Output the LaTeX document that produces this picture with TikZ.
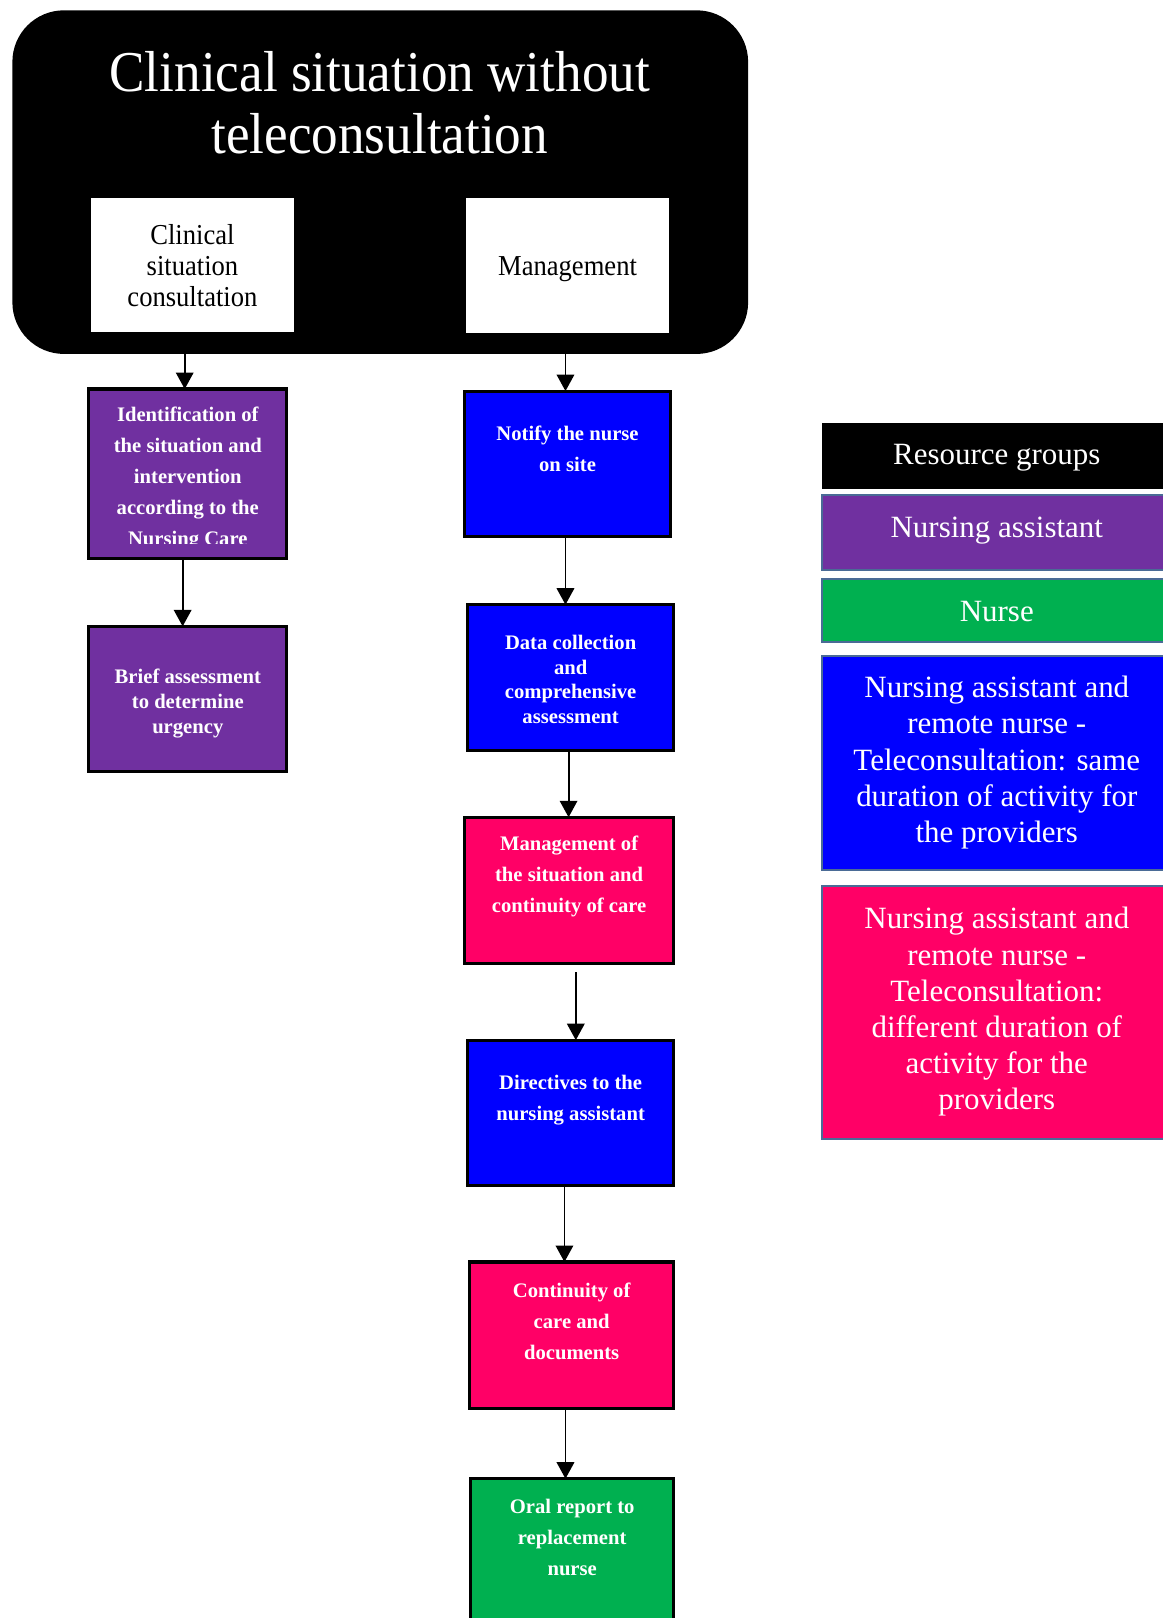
\documentclass[tikz,border=0pt]{standalone}
\usepackage{fontspec}
\setmainfont{Liberation Serif}
\newfontfamily\condensed[FakeStretch=0.92]{Liberation Serif}
\usetikzlibrary{arrows.meta}
\definecolor{cpurple}{HTML}{7030A0}
\definecolor{cblue}{HTML}{0000FF}
\definecolor{cpink}{HTML}{FF0066}
\definecolor{cgreen}{HTML}{00B050}
\definecolor{legborder}{HTML}{4A6B96}
\begin{document}
\begin{tikzpicture}[x=1pt,y=-1pt,
  box/.style={anchor=north west, inner sep=0pt, outer sep=0pt},
  flow/.style={box, draw=black, line width=3pt},
  ftxt/.style={text=white, font=\bfseries\fontsize{20}{30}\selectfont, align=center, inner sep=0pt},
  leg/.style={box, draw=legborder, line width=2pt},
  ltxt/.style={text=white, font=\fontsize{30}{35}\selectfont, align=center, inner sep=0pt},
  wtxt/.style={text=black, font=\condensed\fontsize{28}{30}\selectfont, align=center, inner sep=0pt},
  arr/.style={line width=1.8pt, -{Triangle[width=17pt,length=16pt]}}
]
\useasboundingbox (0,0) rectangle (1127,1568);
\clip (0,0) rectangle (1127,1568);

% top container
\node[box, fill=black, rounded corners=50pt, minimum width=713pt, minimum height=333pt] (top) at (12,10) {};
\node[text=white, font=\condensed\fontsize{56}{60}\selectfont, align=center, inner sep=0pt] (title) at (368,100) {Clinical situation without\\teleconsultation};
\node[box, fill=white, minimum width=197pt, minimum height=130pt] (w1) at (88,192) {};
\node[wtxt] (w1t) at (w1.center) {Clinical\\situation\\consultation};
\node[box, fill=white, minimum width=196pt, minimum height=131pt] (w2) at (452,192) {};
\node[wtxt] (w2t) at (550,260.5) {Management};

% left column
\node[flow, fill=cpurple, minimum width=192pt, minimum height=164pt] (p1) at (86,377) {};
\begin{scope}
  \clip (86,377) rectangle (278,527);
  \node[ftxt] (p1t) at (182,464) {Identification of\\the situation and\\intervention\\according to the\\Nursing Care};
\end{scope}
\node[flow, fill=cpurple, minimum width=192pt, minimum height=141pt] (p2) at (86,607) {};
\node[ftxt, font=\bfseries\fontsize{20}{24}\selectfont] (p2t) at (182,682) {Brief assessment\\to determine\\urgency};

% right column
\node[flow, fill=cblue, minimum width=200pt, minimum height=141pt] (b1) at (450,379) {};
\node[ftxt] (b1t) at (550,435) {Notify the nurse\\on site};
\node[flow, fill=cblue, minimum width=200pt, minimum height=141pt] (b2) at (453,586) {};
\node[ftxt, font=\bfseries\fontsize{20}{23.7}\selectfont] (b2t) at (553,658.5) {Data collection\\and\\comprehensive\\assessment};
\node[flow, fill=cpink, minimum width=203pt, minimum height=142pt] (k1) at (450,792) {};
\node[ftxt] (k1t) at (551.5,849) {Management of\\the situation and\\continuity of care};
\node[flow, fill=cblue, minimum width=200pt, minimum height=141pt] (b3) at (453,1008) {};
\node[ftxt] (b3t) at (553,1066) {Directives to the\\nursing assistant};
\node[flow, fill=cpink, minimum width=198pt, minimum height=142pt] (k2) at (455,1223) {};
\node[ftxt] (k2t) at (554,1280.5) {Continuity of\\care and\\documents};
\node[flow, fill=cgreen, minimum width=197pt, minimum height=170pt] (g1) at (456,1433) {};
\node[ftxt] (g1t) at (554.5,1489.5) {Oral report to\\replacement\\nurse};

% arrows
\draw[arr] ([xshift=-3pt]p1.north |- top.south) -- ([xshift=-3pt]p1.north);
\draw[arr] ([xshift=-2pt]b1.north |- top.south) -- ([xshift=-2pt]b1.north);
\draw[arr] ([xshift=-5pt]p1.south) -- ([xshift=-5pt]p1.south |- p2.north);
\draw[arr] ([xshift=-2pt]b1.south) -- ([xshift=-2pt]b1.south |- b2.north);
\draw[arr] ([xshift=-2pt]b2.south) -- ([xshift=-2pt]b2.south |- k1.north);
\draw[arr] ([xshift=6.5pt,yshift=-8pt]k1.south) -- ([xshift=6.5pt]k1.south |- b3.north);
\draw[arr] ([xshift=-6pt]b3.south) -- ([xshift=-6pt]b3.south |- k2.north);
\draw[arr] ([xshift=-6pt]k2.south) -- ([xshift=-6pt]k2.south |- g1.north);

% legend
\node[box, fill=black, minimum width=340pt, minimum height=64pt] (l0) at (797,410) {};
\node[ltxt] (l0t) at (966,444) {Resource groups};
\node[leg, fill=cpurple, minimum width=340pt, minimum height=72pt] (l1) at (797,480) {};
\node[ltxt] (l1t) at (966,514) {Nursing assistant};
\node[leg, fill=cgreen, minimum width=340pt, minimum height=61pt] (l2) at (797,561) {};
\node[ltxt] (l2t) at (966,593) {Nurse};
\node[leg, fill=cblue, minimum width=340pt, minimum height=207pt] (l3) at (797,636) {};
\node[ltxt] (l3t) at (966,739) {Nursing assistant and\\remote nurse -\\Teleconsultation: same\\duration of activity for\\the providers};
\node[leg, fill=cpink, minimum width=340pt, minimum height=245pt] (l4) at (797,859) {};
\node[ltxt] (l4t) at (966,980.5) {Nursing assistant and\\remote nurse -\\Teleconsultation:\\different duration of\\activity for the\\providers};
\end{tikzpicture}
\end{document}
